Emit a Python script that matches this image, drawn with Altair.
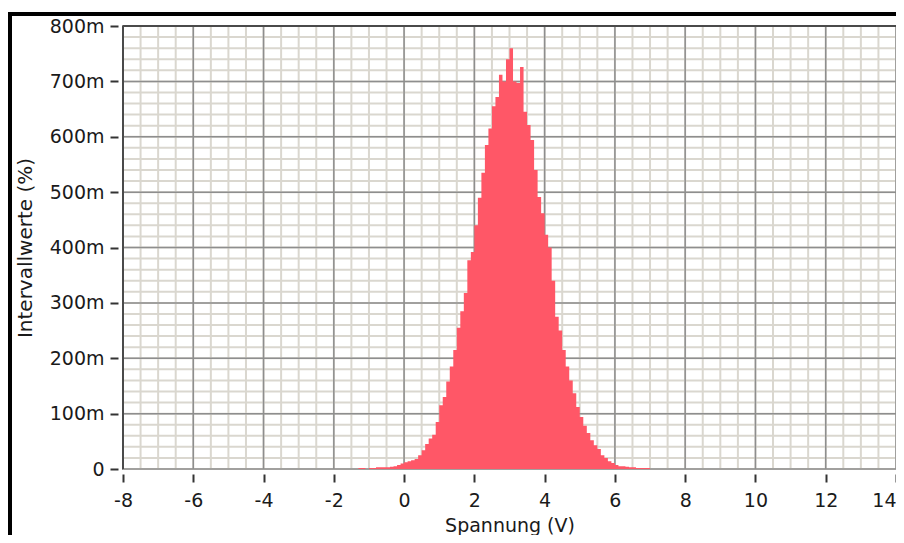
import altair as alt
import pandas as pd

# ---- data (histogram, bin width 0.1 V) ----
bin_left_v = [round(-1.5 + 0.1 * i, 2) for i in range(85)]
bin_width_v = 0.1
values_milli_pct = [
    0, 0, 2, 2, 0, 2, 2, 3, 3, 3,
    3, 4, 5, 7, 10, 12, 14, 16, 18, 25,
    34, 45, 55, 62, 85, 115, 130, 158, 185, 215,
    255, 285, 318, 377, 392, 440, 490, 535, 585, 615,
    655, 672, 712, 700, 740, 760, 700, 697, 726, 645,
    621, 594, 540, 491, 462, 423, 400, 340, 275, 250,
    215, 185, 160, 137, 112, 94, 78, 65, 52, 43,
    36, 25, 20, 14, 11, 7, 5, 5, 4, 3,
    3, 2, 2, 2, 2,
]

x_major_ticks = [-8, -6, -4, -2, 0, 2, 4, 6, 8, 10, 12, 14]
y_major_ticks = [0, 100, 200, 300, 400, 500, 600, 700, 800]
x_minor_grid = [v / 2 for v in range(-16, 29)]
y_minor_grid = list(range(0, 801, 20))

W, H = 773, 443
FONT = "DejaVu Sans"

xs = alt.Scale(domain=[-8, 14], nice=False, zero=False)
ys = alt.Scale(domain=[0, 800], nice=False, zero=False)

x_axis = alt.Axis(
    values=x_major_ticks, title="Spannung (V)", grid=False, domain=False,
    offset=5, tickSize=8, tickWidth=2, tickColor="#333333",
    labelPadding=9, labelFont=FONT, labelFontSize=19, labelColor="#1a1a1a",
    labelFlush=False, labelExpr="'' + datum.value",
    labelAlign={"condition": {"test": "datum.value == 14", "value": "right"}, "value": "center"},
    titleFont=FONT, titleFontSize=19, titleFontWeight="normal", titleColor="#1a1a1a",
    titleY=57, titleBaseline="alphabetic",
)
y_axis = alt.Axis(
    values=y_major_ticks, title="Intervallwerte (%)", grid=False, domain=False,
    offset=5, tickSize=8, tickWidth=2, tickColor="#333333",
    labelPadding=6, labelFont=FONT, labelFontSize=19, labelColor="#1a1a1a",
    labelFlush=False,
    labelExpr="datum.value == 0 ? '0' : datum.value + 'm'",
    titleFont=FONT, titleFontSize=20, titleFontWeight="normal", titleColor="#1a1a1a",
    titleX=-93, titleY=H / 2, titleBaseline="middle", titleAngle=270,
)

# step outline of the histogram: each bin's left edge, plus the right edge of the last bin
step_x = bin_left_v + [round(bin_left_v[-1] + bin_width_v, 2)]
step_y = values_milli_pct + [0]
hist = pd.DataFrame({"x0": step_x, "val": step_y})

minor_x = alt.Chart(pd.DataFrame({"x0": x_minor_grid})).mark_rule(
    color="#DAD7CF", strokeWidth=2
).encode(x=alt.X("x0:Q", scale=xs, axis=x_axis))
minor_y = alt.Chart(pd.DataFrame({"val": y_minor_grid})).mark_rule(
    color="#DAD7CF", strokeWidth=2
).encode(y=alt.Y("val:Q", scale=ys, axis=y_axis))
major_x = alt.Chart(pd.DataFrame({"x0": x_major_ticks})).mark_rule(
    color="#8E8E8E", strokeWidth=1.5
).encode(x=alt.X("x0:Q", scale=xs, axis=x_axis))
major_y = alt.Chart(pd.DataFrame({"val": y_major_ticks})).mark_rule(
    color="#8E8E8E", strokeWidth=1.5
).encode(y=alt.Y("val:Q", scale=ys, axis=y_axis))

area = alt.Chart(hist).mark_area(
    color="#FF5767", interpolate="step-after", opacity=1
).encode(
    x=alt.X("x0:Q", scale=xs, axis=x_axis),
    y=alt.Y("val:Q", scale=ys, axis=y_axis),
    y2=alt.datum(0),
)

frame_top = alt.Chart().mark_rule(color="#4A4A4A", strokeWidth=2).encode(
    x=alt.value(0), x2=alt.value(W), y=alt.value(0))
frame_left = alt.Chart().mark_rule(color="#4A4A4A", strokeWidth=2).encode(
    x=alt.value(0), y=alt.value(0), y2=alt.value(H))
outer_top = alt.Chart().mark_rule(color="#000000", strokeWidth=4).encode(
    x=alt.value(-115), x2=alt.value(W + 20), y=alt.value(-12))
outer_left = alt.Chart().mark_rule(color="#000000", strokeWidth=4).encode(
    x=alt.value(-113), y=alt.value(-14), y2=alt.value(H + 100))

chart = alt.layer(
    minor_x, minor_y, major_x, major_y, area, frame_top, frame_left, outer_top, outer_left
).properties(
    width=W, height=H,
    padding={"left": 115, "top": 18, "right": 0, "bottom": 66},
    autosize=alt.AutoSizeParams(type="none"),
    background="#FFFFFF",
).configure_view(stroke="#8A8A8A", strokeWidth=2)

chart.save("out.html", embed_options={"renderer": "svg", "actions": False})
